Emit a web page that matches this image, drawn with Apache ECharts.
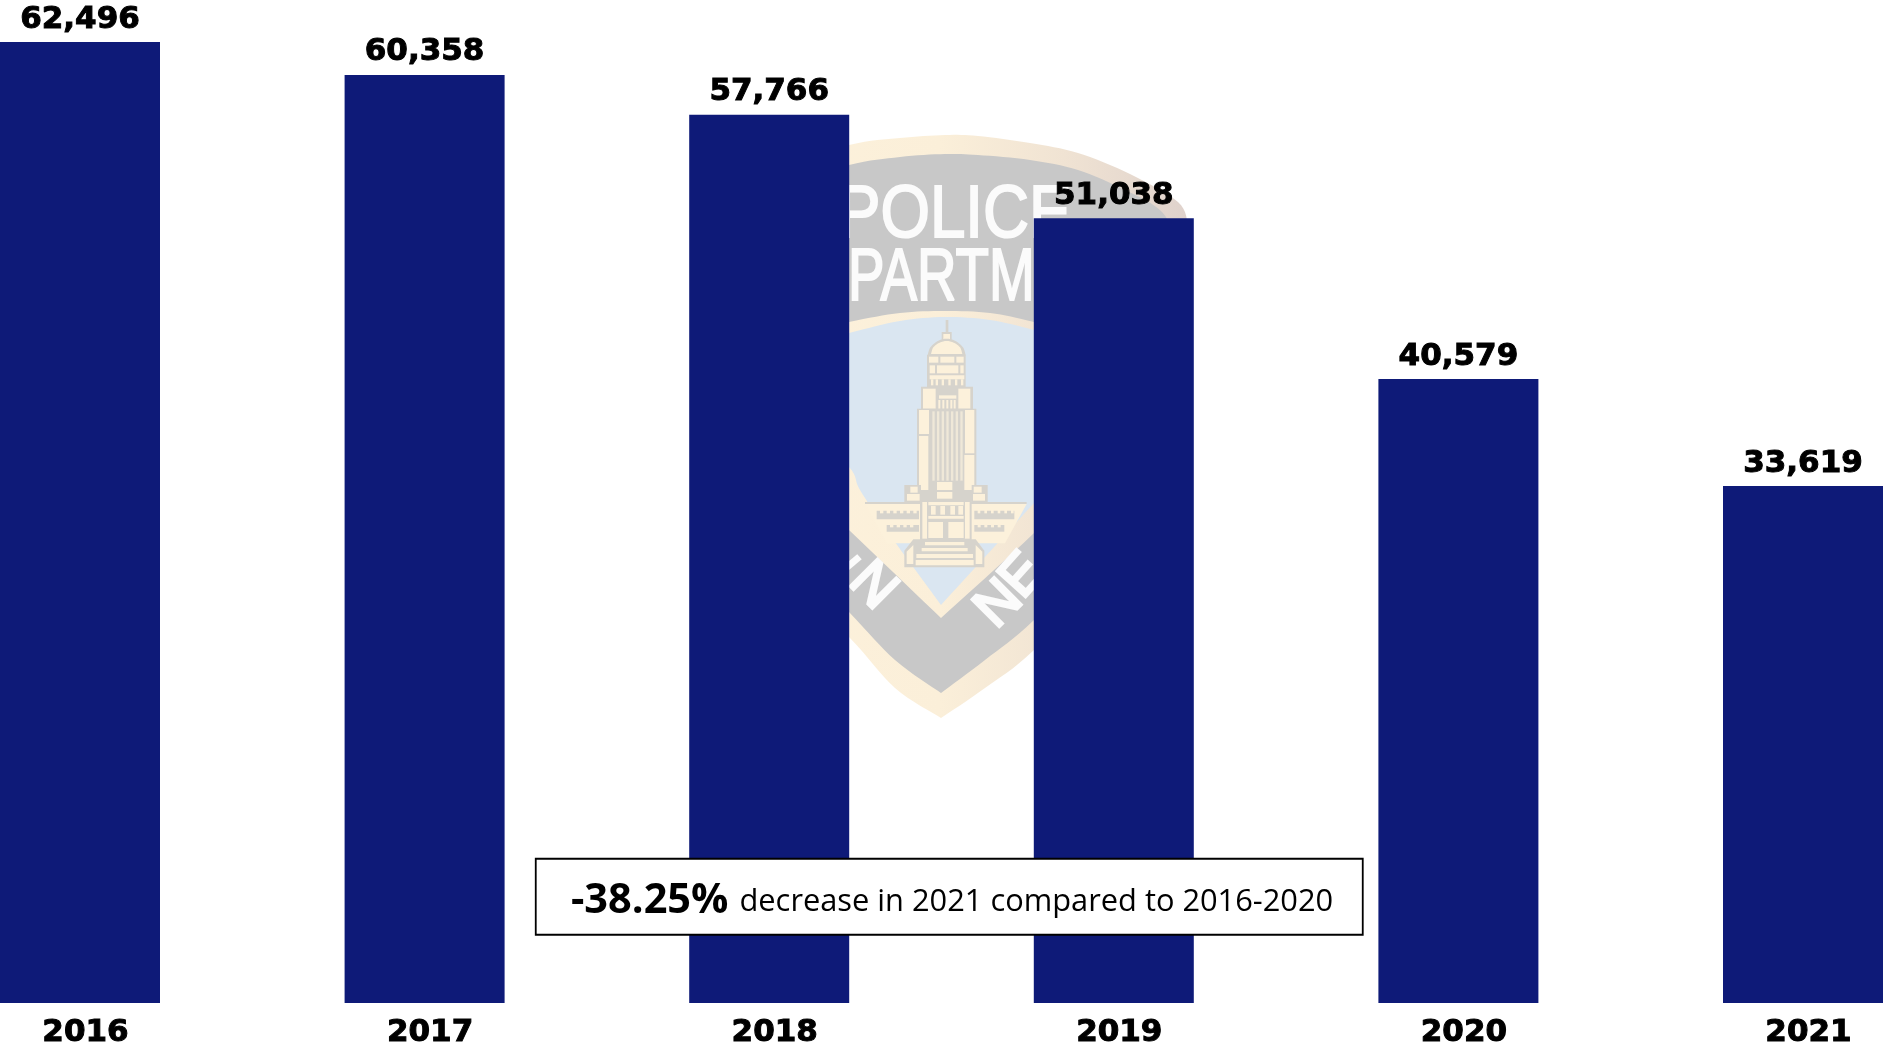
<!DOCTYPE html>
<html>
<head>
<meta charset="utf-8">
<style>html,body{margin:0;padding:0;background:#fff}#c{width:1883px;height:1046px}</style>
<script src="https://cdn.jsdelivr.net/npm/echarts@6/dist/echarts.min.js"></script>
</head>
<body>
<div id="c"></div>
<script>
const years = ['2016','2017','2018','2019','2020','2021'];
const offenses = [62496,60358,57766,51038,40579,33619];
const noteStrong = '-38.25%';
const noteText = 'decrease in 2021 compared to 2016-2020';

const GRAY='#C8C8C8', LINE='#D6D3CC', CREAM='#FCF1DB', SKY='#DAE6F1', WHITE='#FBFBFB';
const creamGrad={type:'linear',x:0,y:0,x2:1,y2:0,colorStops:[{offset:0,color:'#FDF2DC'},{offset:.5,color:'#FBEFD9'},{offset:.75,color:'#F0E3D3'},{offset:1,color:'#DFD2CC'}]};

function poly(points,fill){return {type:'polygon',z:0,shape:{points:points},style:{fill:fill},silent:true};}
function rect(x,y,w,h,fill){return {type:'rect',z:0,shape:{x:x,y:y,width:w,height:h},style:{fill:fill},silent:true};}
function tx(s,x,y,size,rot,sx,sw){return {type:'text',z:0,x:x,y:y,rotation:(rot||0)*Math.PI/180,scaleX:sx||1,silent:true,
  style:{text:s,fill:WHITE,font:'400 '+size+'px "Liberation Sans"',textAlign:'left',textVerticalAlign:'middle',stroke:WHITE,lineWidth:sw||0}};}
// dense outline through anchor points (Catmull-Rom) for the emblem's curved edges
function curve(a){
  const out=[];
  for(let i=0;i<a.length-1;i++){
    const p0=a[Math.max(i-1,0)],p1=a[i],p2=a[i+1],p3=a[Math.min(i+2,a.length-1)];
    for(let k=0;k<8;k++){const t=k/8,t2=t*t,t3=t2*t;
      out.push([0,1].map(j=>.5*(2*p1[j]+(p2[j]-p0[j])*t+(2*p0[j]-5*p1[j]+4*p2[j]-p3[j])*t2+(3*p1[j]-p0[j]-3*p2[j]+p3[j])*t3)));}
  }
  out.push(a[a.length-1]);
  return out;
}
// zoom-crop helpers for the emblem's building
function ax(z){return 845+z/3;}
function ay(z){return 310+z/3;}
function by(z){return 480+z/3;}
function zr(x1,y1,x2,y2,fill,low){const f=low?by:ay;return rect(ax(x1),f(y1),(x2-x1)/3,(f(y2)-f(y1)),fill);}
function zp(list,f){return list.map(p=>[ax(p[0]),f(p[1])]);}

function emblem(){
  const el=[];
  const outerTop=curve([[692,240],[760,172],[849,145],[900,138],[945,135],[978,136],[1030,143],[1078,153],[1130,174],[1178,202],[1188,225]]);
  const outerBot=curve([[1188,460],[1120,560],[1034,650],[985,688],[941,718]]).concat(curve([[941,718],[895,688],[849,637],[770,560],[692,460]]));
  el.push({type:'polygon',z:0,silent:true,shape:{points:outerTop.concat(outerBot)},style:{fill:creamGrad}});
  const grayTop=curve([[712,245],[770,190],[849,165],[900,157],[945,154],[978,155],[1030,160],[1078,170],[1125,190],[1162,212],[1178,245]]);
  const grayBot=curve([[1178,450],[1110,540],[1034,620],[985,660],[941,693]]).concat(curve([[941,693],[895,660],[849,612],[775,535],[712,450]]));
  el.push(poly(grayTop.concat(grayBot),GRAY));
  const bandTop=curve([[720,360],[780,338],[849,322],[900,313],[945,311],[990,313],[1034,322],[1100,340],[1160,365]]);
  const bandBot=curve([[1160,400],[1100,465],[1034,533],[941,618]]).concat(curve([[941,618],[849,530],[780,465],[720,400]]));
  el.push({type:'polygon',z:0,silent:true,shape:{points:bandTop.concat(bandBot)},style:{fill:creamGrad}});
  const skyTop=curve([[735,372],[790,348],[849,333],[900,321],[945,317],[990,320],[1034,330],[1100,348],[1145,372]]);
  const skyBot=curve([[1145,385],[1090,440],[1034,503],[941,605]]).concat(curve([[941,605],[890,535],[860,490],[849,467],[800,420],[735,385]]));
  el.push(poly(skyTop.concat(skyBot),SKY));
  // letters
  el.push(tx('POLICE',838,217,74,0,.86,2));
  el.push(tx('DEPARTMENT',772,280,74,0,.74,2));
  el.push(tx('L',838,566,52,-50,1,2));
  el.push(tx('N',858,572,56,-45,1,3));
  el.push(tx('N',985,619,56,45,1,3));
  el.push(tx('E',1011,590,56,48,1,3));
  // spire and cupola
  el.push(zr(302,30,310,66,LINE));
  el.push(zr(290,66,320,90,LINE));
  el.push(zr(295,72,315,88,CREAM));
  // dome
  el.push(poly(zp(curve([[248,136],[256,112],[280,92],[305,86],[330,92],[354,112],[362,136]]),ay),LINE));
  el.push(poly(zp(curve([[258,132],[265,112],[284,98],[305,93],[326,98],[345,112],[352,132]]),ay),CREAM));
  // tiers
  el.push(zr(246,134,362,232,LINE));
  el.push(zr(252,140,280,158,CREAM)); el.push(zr(286,140,328,158,CREAM)); el.push(zr(334,140,356,158,CREAM));
  el.push(zr(254,166,270,190,CREAM)); el.push(zr(276,166,340,190,CREAM)); el.push(zr(346,166,356,190,CREAM));
  el.push(zr(254,196,358,208,CREAM));
  [258,272,290,310,330,348].forEach(x=>el.push(zr(x,208,x+7,226,CREAM)));
  // shoulders
  el.push(zr(228,230,384,298,LINE));
  el.push(zr(234,236,272,296,CREAM)); el.push(zr(340,236,376,296,CREAM));
  el.push(zr(282,256,334,266,CREAM));
  [280,292,304,316,326].forEach(x=>el.push(zr(x,270,x+6,296,CREAM)));
  // tower shaft
  el.push(zr(216,296,394,575,LINE));
  el.push(zr(222,300,252,372,CREAM)); el.push(zr(222,378,250,540,CREAM));
  el.push(zr(360,300,388,430,CREAM)); el.push(zr(358,435,388,540,CREAM));
  [262,276,290,304,318,332,346].forEach(x=>el.push(zr(x,304,x+7,512,'#EFE8D8')));
  el.push(zr(276,516,322,540,CREAM)); el.push(zr(276,546,322,566,CREAM));
  // base shoulders
  el.push(zr(178,525,228,585,LINE)); el.push(zr(380,525,428,585,LINE));
  el.push(zr(196,530,218,548,CREAM)); el.push(zr(186,552,224,572,CREAM));
  el.push(zr(386,530,410,548,CREAM)); el.push(zr(384,552,420,572,CREAM));
  // wings
  el.push(poly(zp([[60,72],[545,72],[480,190],[125,190]],by),CREAM));
  el.push(zr(60,66,545,72,LINE,1));
  el.push(zr(95,92,222,118,LINE,1)); el.push(zr(388,92,508,118,LINE,1));
  [105,125,145,165,185,205].forEach(x=>el.push(zr(x,90,x+10,100,CREAM,1)));
  [398,418,438,458,478,498].forEach(x=>el.push(zr(x,90,x+8,100,CREAM,1)));
  el.push(zr(125,135,222,155,LINE,1)); el.push(zr(388,135,478,155,LINE,1));
  [135,155,175,195].forEach(x=>el.push(zr(x,133,x+10,142,CREAM,1)));
  [398,418,438,458].forEach(x=>el.push(zr(x,133,x+9,142,CREAM,1)));
  // central block
  el.push(zr(225,60,380,180,LINE,1));
  el.push(zr(232,66,246,176,CREAM,1)); el.push(zr(360,66,374,176,CREAM,1));
  el.push(zr(250,66,356,76,CREAM,1)); el.push(zr(250,108,356,116,CREAM,1));
  el.push(zr(250,126,294,174,CREAM,1)); el.push(zr(310,126,356,174,CREAM,1));
  [258,286,316,340].forEach(x=>el.push(zr(x,78,x+14,104,CREAM,1)));
  // steps
  el.push(poly(zp([[205,178],[392,178],[418,212],[418,262],[178,262],[178,212]],by),LINE));
  el.push(poly(zp([[185,215],[205,195],[205,252],[185,252]],by),CREAM));
  el.push(poly(zp([[392,195],[412,215],[412,252],[392,252]],by),CREAM));
  el.push(zr(240,186,358,196,CREAM,1));
  el.push(zr(230,204,368,214,CREAM,1));
  el.push(zr(214,222,384,234,CREAM,1));
  el.push(zr(212,240,386,256,CREAM,1));
  return el;
}

const chart = echarts.init(document.getElementById('c'),null,{renderer:'canvas'});
chart.setOption({
  animation:false,
  backgroundColor:'#fff',
  grid:{left:-92.3,width:2067.6,top:3.5,height:999.5,containLabel:false,outerBoundsMode:'none'},
  xAxis:{type:'category',data:years,axisLine:{show:false},axisTick:{show:false},splitLine:{show:false},
    axisLabel:{interval:0,margin:14,padding:[0,0,0,11],color:'#000',fontFamily:'DejaVu Sans',fontWeight:'bold',fontSize:31,textBorderColor:'#000',textBorderWidth:1}},
  yAxis:{type:'value',min:0,max:65000,show:false,splitLine:{show:false}},
  series:[{type:'bar',data:offenses,barWidth:160,z:2,itemStyle:{color:'#0E1A78'},
    label:{show:true,position:'top',distance:7,color:'#000',fontFamily:'DejaVu Sans',fontWeight:'bold',fontSize:31,textBorderColor:'#000',textBorderWidth:1,
      formatter:p=>p.value.toLocaleString('en-US')}}],
  graphic:{elements:[...emblem(),
    {type:'rect',z:100,shape:{x:535.75,y:858.75,width:827,height:76},style:{fill:'#fff',stroke:'#000',lineWidth:1.8},silent:true},
    {type:'text',z:101,x:571,y:901,silent:true,style:{text:'{a|'+noteStrong+'}{b| '+noteText+'}',textVerticalAlign:'middle',textAlign:'left',fill:'#000',
      rich:{a:{font:'700 41.5px "Open Sans"',fill:'#000',padding:[0,3,0,0]},b:{font:'400 30.8px "Open Sans"',fill:'#000',padding:[3,0,0,0]}}}}
  ]}
});
</script>
</body>
</html>
